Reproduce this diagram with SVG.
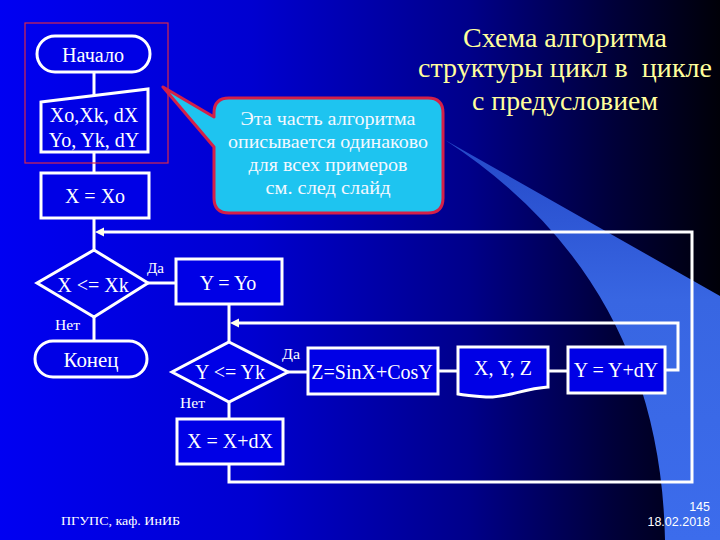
<svg xmlns="http://www.w3.org/2000/svg" width="720" height="540" viewBox="0 0 720 540">
<style>
.node{fill:#0000e6;stroke:#ffffff;stroke-width:3}
.t{font-family:"Liberation Serif","Times New Roman",serif;font-size:20px;fill:#ffffff;text-anchor:middle}
.lbl{font-family:"Liberation Serif","Times New Roman",serif;font-size:15px;fill:#ffffff}
.con{fill:none;stroke:#ffffff;stroke-width:3}
.ah{fill:#ffffe8}
.title{font-family:"Liberation Serif","Times New Roman",serif;font-size:28px;fill:#ffff9c;text-anchor:middle}
.ct{font-family:"Liberation Serif","Times New Roman",serif;font-size:19px;fill:#f4f8ff;text-anchor:middle}
.foot{font-family:"Liberation Serif","Times New Roman",serif;font-size:13.5px;fill:#ffffff}
.num{font-family:"Liberation Sans",Arial,sans-serif;font-size:12.5px;fill:#ffffff;text-anchor:end}
</style>
<defs>
<linearGradient id="bg" x1="0" y1="0" x2="1" y2="0">
<stop offset="0" stop-color="#0000f2"/>
<stop offset="0.35" stop-color="#0000d0"/>
<stop offset="0.65" stop-color="#00008a"/>
<stop offset="0.85" stop-color="#00003a"/>
<stop offset="1" stop-color="#000008"/>
</linearGradient>
<linearGradient id="band" x1="0" y1="0" x2="0" y2="1">
<stop offset="0" stop-color="#2448c8"/>
<stop offset="0.4" stop-color="#3866e2"/>
<stop offset="1" stop-color="#3c6cec"/>
</linearGradient>
</defs>
<rect x="0" y="0" width="720" height="540" fill="url(#bg)"/>
<path d="M445,140 Q660,280 665,540 L720,540 L720,296 Z" fill="url(#band)"/>

<g id="title">
<text class="title" x="565" y="47" textLength="204" lengthAdjust="spacingAndGlyphs">Схема алгоритма</text>
<text class="title" x="565" y="77" textLength="294" lengthAdjust="spacingAndGlyphs">структуры цикл в&#160; цикле</text>
<text class="title" x="565" y="110" textLength="186" lengthAdjust="spacingAndGlyphs">с предусловием</text>
</g>

<g id="connectors">
<line class="con" x1="94" y1="72" x2="94" y2="96"/>
<line class="con" x1="94" y1="152" x2="94" y2="173"/>
<line class="con" x1="94" y1="218" x2="94" y2="250"/>
<polyline class="con" points="229,464 229,482 692,482 692,232 102,232"/>
<polygon class="ah" points="95,232 104,227.5 104,236.5"/>
<line class="con" x1="148" y1="283" x2="176" y2="283"/>
<line class="con" x1="94" y1="317" x2="94" y2="341"/>
<line class="con" x1="229" y1="304" x2="229" y2="342"/>
<polyline class="con" points="665,370 678,370 678,323 237,323"/>
<polygon class="ah" points="230,323 239,318.5 239,327.5"/>
<line class="con" x1="288" y1="372" x2="308" y2="372"/>
<line class="con" x1="438" y1="371" x2="458" y2="371"/>
<line class="con" x1="548" y1="371" x2="568" y2="371"/>
<line class="con" x1="229" y1="402" x2="229" y2="419"/>
</g>

<g id="highlight">
<rect x="25" y="23" width="143" height="140" fill="none" stroke="#d8284a" stroke-width="1.2"/>
</g>

<g id="callout">
<path d="M229,98 H428 Q443,98 443,113 V198 Q443,213 428,213 H229 Q214,213 214,198 V147 L163,87 L214,117 V113 Q214,98 229,98 Z" fill="#1ec4f0" stroke="#d42048" stroke-width="3" stroke-linejoin="round"/>
<text class="ct" x="328" y="125" textLength="175" lengthAdjust="spacingAndGlyphs">Эта часть алгоритма</text>
<text class="ct" x="328" y="148" textLength="200" lengthAdjust="spacingAndGlyphs">описывается одинаково</text>
<text class="ct" x="328" y="171" textLength="159" lengthAdjust="spacingAndGlyphs">для всех примеров</text>
<text class="ct" x="328" y="194" textLength="125" lengthAdjust="spacingAndGlyphs">см. след слайд</text>
</g>

<g id="start">
<rect class="node" x="37" y="36" width="113" height="36" rx="18" ry="18"/>
<text class="t" x="93" y="62" textLength="62" lengthAdjust="spacingAndGlyphs">Начало</text>
</g>
<g id="input">
<path class="node" d="M41,102 L148,89 L148,152 L41,152 Z"/>
<text class="t" x="94" y="122">Xo,Xk, dX</text>
<text class="t" x="94" y="147">Yo, Yk, dY</text>
</g>
<g id="xinit">
<rect class="node" x="41" y="173" width="108" height="45"/>
<text class="t" x="95" y="203">X = Xo</text>
</g>
<g id="cond1">
<polygon class="node" points="94,250 148,283 94,317 37,283"/>
<text class="t" x="93" y="292">X &lt;= Xk</text>
<text class="lbl" x="147" y="273" textLength="17" lengthAdjust="spacingAndGlyphs">Да</text>
<text class="lbl" x="55" y="330" textLength="25" lengthAdjust="spacingAndGlyphs">Нет</text>
</g>
<g id="yinit">
<rect class="node" x="176" y="259" width="106" height="45"/>
<text class="t" x="228" y="290">Y = Yo</text>
</g>
<g id="end">
<rect class="node" x="35" y="341" width="112" height="36" rx="18" ry="18"/>
<text class="t" x="91" y="367" textLength="55" lengthAdjust="spacingAndGlyphs">Конец</text>
</g>
<g id="cond2">
<polygon class="node" points="229,342 288,372 229,402 172,372"/>
<text class="t" x="230" y="379">Y &lt;= Yk</text>
<text class="lbl" x="282" y="359" textLength="18" lengthAdjust="spacingAndGlyphs">Да</text>
<text class="lbl" x="180" y="408" textLength="25" lengthAdjust="spacingAndGlyphs">Нет</text>
</g>
<g id="calc">
<rect class="node" x="308" y="348" width="130" height="46"/>
<text class="t" x="372" y="379">Z=SinX+CosY</text>
</g>
<g id="output">
<path class="node" d="M458,347 H548 V387 C522,389 506,398 486,397 C472,396 463,395 458,394 Z"/>
<text class="t" x="503" y="375">X, Y, Z</text>
</g>
<g id="yinc">
<rect class="node" x="568" y="347" width="97" height="46"/>
<text class="t" x="616" y="377">Y = Y+dY</text>
</g>
<g id="xinc">
<rect class="node" x="177" y="419" width="106" height="45"/>
<text class="t" x="230" y="448">X = X+dX</text>
</g>

<g id="footer">
<text class="foot" x="61" y="525" textLength="119" lengthAdjust="spacingAndGlyphs">ПГУПС, каф. ИнИБ</text>
<text class="num" x="710" y="511">145</text>
<text class="num" x="710" y="526">18.02.2018</text>
</g>
</svg>
